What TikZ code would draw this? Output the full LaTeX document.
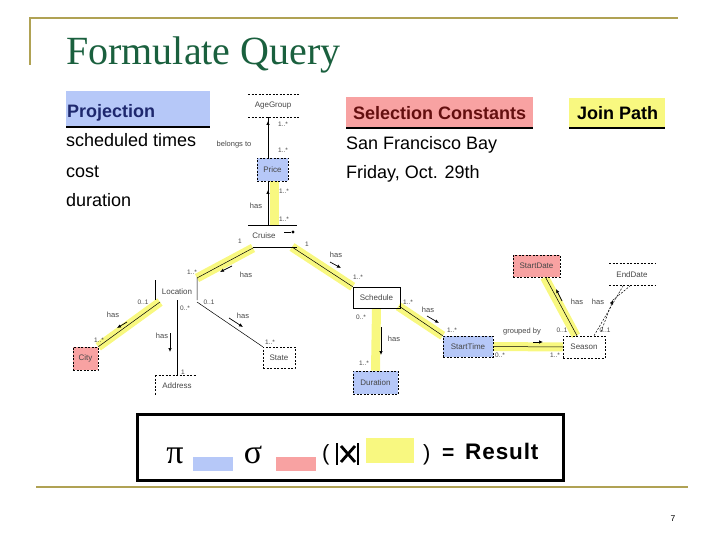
\documentclass[tikz,border=0pt]{standalone}
\usepackage{fontspec}
\setmainfont{Liberation Sans}
\newfontfamily\serifti{Liberation Serif}
\usetikzlibrary{arrows.meta,calc,backgrounds}
\definecolor{gold}{RGB}{176,162,84}
\definecolor{ttl}{RGB}{26,96,62}
\definecolor{blu}{RGB}{182,200,248}
\definecolor{pnk}{RGB}{248,162,162}
\definecolor{yel}{RGB}{248,248,128}
\definecolor{dred}{RGB}{100,15,15}
\definecolor{dblu}{RGB}{30,40,110}
\definecolor{dg}{RGB}{70,70,70}
\begin{document}
\begin{tikzpicture}[x=1pt,y=-1pt,
  lab/.style={font=\fontsize{7.5}{8}\selectfont,text=dg,inner sep=0.5pt},
  mul/.style={font=\fontsize{6.5}{7}\selectfont,text=dg,inner sep=0.5pt},
  cls/.style={draw=black,dash pattern=on 2pt off 1.5pt,line width=0.5pt,font=\fontsize{8}{9}\selectfont,text=dg,inner sep=0},
  hl/.style={yel,line width=9pt},
  asc/.style={black,line width=0.5pt},
  partline/.style={black,line width=0.5pt},
  partdash/.style={black,line width=0.5pt,dash pattern=on 2pt off 1.5pt},
  dirarr/.style={black,line width=0.7pt,-{Latex[length=4pt,width=3.5pt]}},
  item/.style={font=\fontsize{18}{20}\selectfont,anchor=base west,inner sep=0},
  hdr/.style={font=\bfseries\fontsize{18}{20}\selectfont,anchor=base west,inner sep=0}
]
\useasboundingbox (0,0) rectangle (720,540);

% frame lines
\draw[gold,line width=2pt] (30,65) -- (30,18) -- (678,18);
\draw[gold,line width=2pt] (36,487) -- (688,487);

% title
\node[anchor=base west,text=ttl,font=\serifti\fontsize{40}{40}\selectfont,inner sep=0] (title) at (66,65) {Formulate Query};

% headers
\fill[blu] (66,91) rectangle (210,126);
\node[hdr,text=dblu] (proj) at (67,118) {Projection};
\draw[line width=2pt] (66,127) -- (210,127);
\node[item] (it1) at (66,147) {scheduled times};
\node[item] (it2) at (66,178) {cost};
\node[item] (it3) at (66,207) {duration};

\fill[pnk] (346,97) rectangle (533,127);
\node[hdr,text=dred] (sel) at (353,120) {Selection Constants};
\draw[line width=2pt] (346,128) -- (533,128);
\node[item] (sc1) at (346,150) {San Francisco Bay};
\node[item] (sc2) at (346,179) {Friday, Oct. 29th};

\fill[yel] (569,98) rectangle (665,127);
\node[hdr] (jp) at (577,120) {Join Path};
\draw[line width=2pt] (569,128) -- (665,128);

% classes
\node[cls,fill=blu,minimum width=31pt,minimum height=23pt] (price) at (272.5,169.5) {Price};
\node[cls,fill=pnk,minimum width=25pt,minimum height=23pt] (city) at (85.5,358.5) {City};
\node[cls,minimum width=32pt,minimum height=21pt] (state) at (279,357.5) {State};
\node[cls,solid,minimum width=47pt,minimum height=21pt] (sched) at (376.5,297.5) {Schedule};
\node[cls,fill=blu,minimum width=45pt,minimum height=23pt] (dur) at (375.5,382.5) {Duration};
\node[cls,fill=blu,minimum width=50pt,minimum height=21pt] (stime) at (468,346.5) {StartTime};
\node[cls,minimum width=42pt,minimum height=22pt] (season) at (584,347) {Season};
\node[cls,fill=pnk,minimum width=47pt,minimum height=22pt] (sdate) at (536.5,266) {StartDate};

% partial classes
\node[lab,font=\fontsize{8}{9}\selectfont] (age) at (273,106) {AgeGroup};
\draw[partdash] (248,94) -- (300,94) (248,117) -- (300,117);
\coordinate (ageb) at (268,117);

\node[lab,font=\fontsize{8}{9}\selectfont] (cruise) at (264,236) {Cruise};
\draw[partline] (248,225) -- (297,225) (253,247) -- (297,247);
\draw[partline] (284,232) -- (291,232);
\fill (293,232) circle (1.6);
\coordinate (cruiset) at (268,225);
\coordinate (cruisebl) at (253,248);
\coordinate (cruisebr) at (292,247);

\node[lab,font=\fontsize{8}{9}\selectfont] (loc) at (177,292) {Location};
\draw[partline] (155,280) -- (155,300);
\coordinate (locbend) at (197,278);
\coordinate (locr) at (197,300);
\coordinate (locbl) at (160,302);
\coordinate (locb) at (177,300);
\coordinate (locbr) at (197,302);

\node[lab,font=\fontsize{8}{9}\selectfont] (addr) at (177,386) {Address};
\draw[partdash] (155,375) -- (197,375) (155,375) -- (155,396);
\coordinate (addrt) at (177,375);

\node[lab,font=\fontsize{8}{9}\selectfont] (edate) at (632,275) {EndDate};
\draw[partdash] (609,263) -- (655,263) (609,285) -- (655,285);
\coordinate (edb) at (623,286);
\coordinate (edb2) at (630,286);

% highlights
\begin{pgfonlayer}{background}
\draw[hl] ($(price.south)+(1.5,0)$) -- ($(cruiset)+(6,0)$);
\draw[hl] (cruisebl) -- (locbend);
\draw[hl] (cruisebr) -- (sched.north west);
\draw[hl] (locbl) -- (city.north east);
\draw[hl] (sched.south) -- (dur.north);
\draw[hl] ($(sched.south east)+(-2,-2)$) -- (stime.north west);
\draw[hl] (stime.east) -- (season.west);
\draw[hl] ($(season.north)+(-8,0)$) -- ($(sdate.south)+(8,0)$);
\end{pgfonlayer}

% connectors
\draw[asc] ($(price.north)+(-4.5,0)$) -- (ageb);
\draw[dirarr] (268,132) -- (268,121);
\draw[asc] ($(price.south)+(-4.5,0)$) -- (cruiset);
\draw[dirarr] (268,202) -- (268,190);
\draw[asc] (cruisebl) -- (locbend) -- (locr);
\draw[dirarr] (232,266) -- (220,272);
\draw[asc] (cruisebr) -- (sched.north west);
\draw[dirarr] (330,262) -- (341,268);
\draw[asc] (locbl) -- (city.north east);
\draw[dirarr] (127,322) -- (117,328);
\draw[asc] (locb) -- (addrt);
\draw[dirarr] (170,333) -- (170,352);
\draw[asc] (locbr) -- (state.north west);
\draw[dirarr] (229,318) -- (243,327);
\draw[dirarr] (381,327) -- (381,355);
\draw[asc] ($(sched.south east)+(-1,-2)$) -- (stime.north west);
\draw[dirarr] (427,316) -- (439,323);
\draw[asc] (stime.east) -- (season.west);
\draw[dirarr] (533,342) -- (543,342);
\draw[asc] ($(season.north)+(-7,0)$) -- ($(sdate.south)+(9,0)$);
\draw[dirarr] (562,301) -- (556,289);
\draw[partdash] ($(season.north)+(10,0)$) -- (edb);
\draw[partdash,-{Latex[length=4pt,width=3.5pt]}] ($(season.north)+(17,-4)$) -- ($(edb2)+(-17,14)$);
\draw[partdash] ($(edb2)+(-17,14)$) -- (edb2);

% labels
\node[mul] (m1) at (283,124) {1..*};
\node[mul] (m2) at (283,150) {1..*};
\node[lab,anchor=east] (n1) at (252,145) {belongs to};
\node[mul] (m3) at (284,191) {1..*};
\node[mul] (m4) at (284,219) {1..*};
\node[lab] (n2) at (256,206) {has};
\node[mul] (m5) at (240,241) {1};
\node[mul] (m6) at (192,272) {1..*};
\node[lab] (n3) at (246,275) {has};
\node[mul] (m7) at (209,302) {0..1};
\node[mul] (m8) at (307,244) {1};
\node[lab] (n4) at (336,255) {has};
\node[mul] (m9) at (358,277) {1..*};
\node[mul] (m10) at (143,302) {0..1};
\node[lab] (n5) at (113,315) {has};
\node[mul] (m11) at (99,340) {1..*};
\node[mul] (m12) at (185,308) {0..*};
\node[lab] (n6) at (162,336) {has};
\node[mul] (m13) at (183,372) {1};
\node[lab] (n7) at (243,316) {has};
\node[mul] (m14) at (270,342) {1..*};
\node[mul] (m15) at (361,317) {0..*};
\node[lab] (n8) at (394,339) {has};
\node[mul] (m16) at (364,363) {1..*};
\node[mul] (m17) at (408,302) {1..*};
\node[lab] (n9) at (428,310) {has};
\node[mul] (m18) at (452,330) {1..*};
\node[lab] (n10) at (522,332) {grouped by};
\node[mul] (m19) at (500,355) {0..*};
\node[mul] (m20) at (555,355) {1..*};
\node[lab] (n11) at (577,302) {has};
\node[mul] (m21) at (562,330) {0..1};
\node[lab] (n12) at (598,302) {has};
\node[mul] (m22) at (605,330) {0..1};

% formula
\draw[line width=3pt] (137,414) rectangle (563,480);
\node[anchor=base,font=\serifti\fontsize{34}{34}\selectfont,inner sep=0] (pi) at (175,463) {π};
\fill[blu] (193,457) rectangle (233,471);
\node[anchor=base,font=\serifti\fontsize{34}{34}\selectfont,inner sep=0] (sigma) at (253,463) {σ};
\fill[pnk] (276,457) rectangle (316,471);
\node[anchor=base west,font=\fontsize{22}{22}\selectfont,inner sep=0] (lpar) at (322,460) {(};
\draw[line width=2pt] (337,443) -- (337,465) (358,443) -- (358,465);
\draw[line width=2.8pt] (341,446) -- (355,462) (341,462) -- (355,446);
\fill[yel] (366,438) rectangle (414,463);
\node[anchor=base west,font=\fontsize{22}{22}\selectfont,inner sep=0] (rpar) at (423,460) {)};
\node[anchor=base west,font=\bfseries\fontsize{21}{21}\selectfont,inner sep=0] (eq) at (442,459) {=};
\node[anchor=base west,font=\bfseries\fontsize{22.5}{22}\selectfont\addfontfeature{LetterSpace=4},inner sep=0] (res) at (465,459) {Result};

% page number
\node[anchor=base,font=\fontsize{8.5}{9}\selectfont,inner sep=0] (pg) at (673,521) {7};
\end{tikzpicture}
\end{document}
